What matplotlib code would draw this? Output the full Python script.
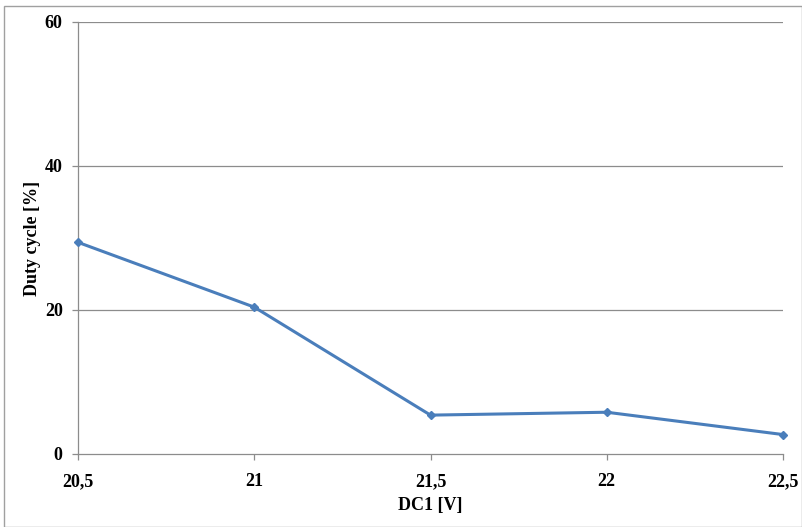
import matplotlib
matplotlib.use("Agg")
import matplotlib.pyplot as plt
from matplotlib.patches import Rectangle

x_values = [20.5, 21.0, 21.5, 22.0, 22.5]
x_labels = ["20,5", "21", "21,5", "22", "22,5"]
duty_cycle = [29.4, 20.4, 5.4, 5.8, 2.7]
y_ticks = [0, 20, 40, 60]

plt.rcParams['font.family'] = ['Liberation Serif', 'DejaVu Serif']

fig = plt.figure(figsize=(8.03, 5.27), dpi=100)
ax = fig.add_axes([78/803, 73/527, (783-78)/803, (454-22)/527])

grid_col = '#8c8c8c'
fs = 13
ax.plot(x_values, duty_cycle, color='#4a7ebb', lw=2.2, marker='D', ms=4.5,
        markeredgecolor='#4a7ebb', markerfacecolor='#4a7ebb', zorder=3, clip_on=False)

ax.set_xlim(20.5, 22.5)
ax.set_ylim(0, 60)
ax.set_xticks(x_values)
ax.set_xticklabels(x_labels)
ax.set_yticks(y_ticks)
ax.set_yticklabels([str(t) for t in y_ticks])

for t in y_ticks[1:]:
    ax.axhline(t, color=grid_col, lw=0.9, zorder=1)

for s in ['top', 'right']:
    ax.spines[s].set_visible(False)
for s in ['left', 'bottom']:
    ax.spines[s].set_color(grid_col)
    ax.spines[s].set_linewidth(0.9)

ax.tick_params(axis='x', direction='out', length=4, width=0.9, color=grid_col,
               pad=10, labelsize=fs)
ax.tick_params(axis='y', direction='out', length=4, width=0.9, color=grid_col,
               pad=7, labelsize=fs)
for lab in ax.get_xticklabels() + ax.get_yticklabels():
    lab.set_fontweight('bold')

ax.set_xlabel('DC1 [V]', fontsize=fs, fontweight='bold')
ax.set_ylabel('Duty cycle [%]', fontsize=fs, fontweight='bold')
ax.xaxis.set_label_coords(0.5, -0.12, transform=ax.transAxes)
ax.yaxis.set_label_coords(-0.065, 0.5, transform=ax.transAxes)
ax.xaxis.label.set_va('center')
ax.yaxis.label.set_va('center')

fig.patches.append(Rectangle((4/803, 0.0), 1 - 5/803, 1 - 6/527, transform=fig.transFigure,
                             fill=False, edgecolor='#a0a0a0', lw=1.0))

fig.savefig('out.png', dpi=100)
